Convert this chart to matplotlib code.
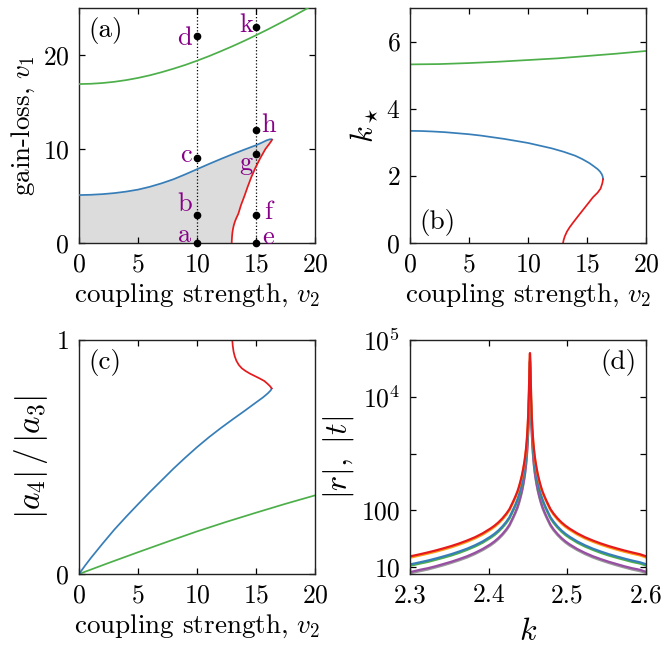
import numpy as np
import matplotlib
matplotlib.use('Agg')
import matplotlib.pyplot as plt

plt.rcParams['font.family'] = 'serif'
plt.rcParams['font.serif'] = ['cmr10']
plt.rcParams['mathtext.fontset'] = 'cm'
plt.rcParams['axes.formatter.use_mathtext'] = True
plt.rcParams['font.size'] = 19.5
plt.rcParams['xtick.labelsize'] = 18.5
plt.rcParams['ytick.labelsize'] = 18.5

GREEN = '#4daf4a'
BLUE = '#377eb8'
RED = '#e41a1c'
PURPLE = '#984ea3'
ORANGE = '#ff9f1a'
GREY = '#999999'
LABEL = '#880088'

# ---------------------------
# Panel (a): gain-loss vs coupling
# ---------------------------
green_a_v2 = [0, 1, 2, 3, 4, 5, 6, 7, 8, 9, 10, 11, 12, 13, 14, 15, 16, 17, 18, 19, 20]
green_a_v1 = [16.91, 16.94, 17.02, 17.15, 17.33, 17.56, 17.84, 18.17, 18.54, 18.94, 19.39,
              19.87, 20.39, 20.93, 21.50, 22.10, 22.72, 23.37, 24.03, 24.72, 25.42]
blue_a_v2 = [0, 1, 2, 3, 4, 5, 6, 7, 8, 9, 10, 11, 12, 13, 14, 15, 15.5, 15.9, 16.2, 16.35]
blue_a_v1 = [5.1, 5.13, 5.2, 5.31, 5.47, 5.68, 5.98, 6.35, 6.78, 7.3, 7.85, 8.4, 8.93, 9.44,
             9.93, 10.4, 10.68, 10.92, 11.04, 11.0]
red_a_v2 = [12.94, 12.95, 12.97, 13.0, 13.05, 13.12, 13.22, 13.35, 13.5, 13.72, 14.02, 14.3,
            14.6, 14.95, 15.35, 15.8, 16.1, 16.3, 16.35]
red_a_v1 = [0, 0.3, 0.7, 1.1, 1.5, 1.9, 2.3, 2.7, 3.1, 4, 5, 6, 7, 8, 9, 10, 10.5, 10.85, 11.0]

point_v2 = [10, 10, 10, 10, 15, 15, 15, 15, 15]
point_v1 = [0, 3, 9, 22, 0, 3, 9.5, 12, 23]
point_names = ['a', 'b', 'c', 'd', 'e', 'f', 'g', 'h', 'k']

# ---------------------------
# Panel (b): k_star vs coupling
# ---------------------------
green_b_v2 = [0, 2.5, 5, 7.5, 10, 12.5, 15, 17.5, 20]
green_b_k = [5.32, 5.33, 5.36, 5.40, 5.45, 5.50, 5.57, 5.64, 5.72]
blue_b_v2 = [0, 1, 2, 3, 4, 5, 6, 7, 8, 9, 10, 11, 12, 13, 14, 14.6, 15.2, 15.6, 15.9,
             16.1, 16.25, 16.33, 16.36]
blue_b_k = [3.34, 3.335, 3.32, 3.30, 3.27, 3.24, 3.20, 3.15, 3.10, 3.04, 2.98, 2.90, 2.82,
            2.72, 2.60, 2.50, 2.38, 2.28, 2.20, 2.13, 2.05, 1.98, 1.90]
red_b_v2 = [16.36, 16.3, 16.15, 15.9, 15.5, 15.1, 14.66, 14.2, 13.85, 13.53, 13.3, 13.12,
            13.02, 12.97]
red_b_k = [1.90, 1.78, 1.62, 1.50, 1.36, 1.18, 0.985, 0.78, 0.62, 0.47, 0.34, 0.2, 0.09, 0.0]

# ---------------------------
# Panel (c): |a4|/|a3| vs coupling
# ---------------------------
green_c_v2 = [0, 2.5, 5, 7.5, 10, 12.5, 15, 17.5, 20]
green_c_r = [0, 0.047, 0.093, 0.138, 0.182, 0.223, 0.262, 0.30, 0.336]
blue_c_v2 = [0, 0.5, 1, 2, 3, 4, 5, 6, 7, 8, 9, 10, 11, 12, 13, 14, 15, 15.6, 16.0, 16.25,
             16.33]
blue_c_r = [0, 0.035, 0.068, 0.13, 0.19, 0.245, 0.298, 0.35, 0.40, 0.45, 0.497, 0.542, 0.584,
            0.623, 0.66, 0.696, 0.733, 0.755, 0.772, 0.785, 0.793]
red_c_v2 = [16.33, 16.2, 16.0, 15.7, 15.3, 14.9, 14.5, 14.1, 13.8, 13.55, 13.35, 13.2, 13.1,
            13.03, 12.99]
red_c_r = [0.793, 0.802, 0.812, 0.825, 0.836, 0.846, 0.856, 0.868, 0.879, 0.893, 0.91, 0.93,
           0.95, 0.975, 1.0]

# ---------------------------
# Panel (d): |r|, |t| vs k (left flank, peak, right flank)
# ---------------------------
k_d = [2.30, 2.3125, 2.3225, 2.3325, 2.3425, 2.3525, 2.3625, 2.3725, 2.3825, 2.3925,
       2.4025, 2.4075, 2.4125, 2.4175, 2.4225, 2.4265, 2.4305, 2.4335, 2.4365, 2.4385,
       2.4405, 2.4425, 2.444, 2.4455, 2.4465, 2.4475, 2.4485, 2.4495, 2.4503, 2.451,
       2.4515, 2.452,
       2.4525,
       2.453, 2.4535, 2.454, 2.4547, 2.4555, 2.4565, 2.4575, 2.4585, 2.4595, 2.461,
       2.4625, 2.4645, 2.4665, 2.4685, 2.4715, 2.4745, 2.4785, 2.4825, 2.4875, 2.4925,
       2.4975, 2.5025, 2.5125, 2.5225, 2.5325, 2.5425, 2.5525, 2.5625, 2.5725, 2.5825,
       2.5925, 2.60]
red_d = [15.5, 16.9, 18.2, 19.7, 21.5, 23.6, 26.2, 29.5, 33.7, 39.6,
         48.2, 54, 61.8, 72.6, 88, 106, 138, 170, 215, 262,
         330, 430, 550, 730, 920, 1220, 1750, 2850, 4900, 9700,
         19500, 40000,
         59000,
         40000, 19500, 9700, 4900, 2850, 1750, 1220, 920, 730, 550,
         430, 330, 262, 215, 170, 138, 106, 88, 72.6, 61.8,
         54, 48.2, 39.6, 33.7, 29.5, 26.2, 23.6, 21.5, 19.7, 18.2,
         16.9, 15.6]
orange_d = [14.7, 16.1, 17.3, 18.7, 20.4, 22.4, 24.9, 28.0, 32.0, 37.6,
            45.8, 51.3, 58.7, 69.0, 83.6, 101, 131, 162, 204, 249,
            314, 409, 523, 694, 874, 1160, 1660, 2710, 4660, 9220,
            18500, 38000,
            56000,
            38000, 18500, 9220, 4660, 2710, 1660, 1160, 874, 694, 523,
            409, 314, 249, 204, 162, 131, 101, 83.6, 69.0, 58.7,
            51.3, 45.8, 37.6, 32.0, 28.0, 24.9, 22.4, 20.4, 18.7, 17.3,
            16.1, 14.8]
blue_d = [11.2, 12.2, 13.1, 14.2, 15.5, 17.0, 18.9, 21.2, 24.3, 28.5,
          34.7, 38.9, 44.5, 52.3, 63.4, 76.3, 99.4, 122, 155, 189,
          238, 310, 396, 526, 662, 878, 1260, 2050, 3530, 6980,
          14000, 28800,
          42500,
          28800, 14000, 6980, 3530, 2050, 1260, 878, 662, 526, 396,
          310, 238, 189, 155, 122, 99.4, 76.3, 63.4, 52.3, 44.5,
          38.9, 34.7, 28.5, 24.3, 21.2, 18.9, 17.0, 15.5, 14.2, 13.1,
          12.2, 11.3]
green_d = [10.6, 11.6, 12.4, 13.5, 14.7, 16.1, 17.9, 20.2, 23.1, 27.1,
           33.0, 36.9, 42.3, 49.7, 60.2, 72.5, 94.4, 116, 147, 179,
           226, 294, 376, 500, 629, 834, 1200, 1950, 3350, 6630,
           13300, 27400,
           40400,
           27400, 13300, 6630, 3350, 1950, 1200, 834, 629, 500, 376,
           294, 226, 179, 147, 116, 94.4, 72.5, 60.2, 49.7, 42.3,
           36.9, 33.0, 27.1, 23.1, 20.2, 17.9, 16.1, 14.7, 13.5, 12.4,
           11.6, 10.7]
purple_d = [8.2, 9.0, 9.6, 10.4, 11.4, 12.5, 13.9, 15.6, 17.9, 21.0,
            25.5, 28.6, 32.8, 38.5, 46.6, 56.2, 73.1, 90.1, 114, 139,
            175, 228, 292, 387, 488, 647, 928, 1510, 2600, 5140,
            10300, 21200,
            31300,
            21200, 10300, 5140, 2600, 1510, 928, 647, 488, 387, 292,
            228, 175, 139, 114, 90.1, 73.1, 56.2, 46.6, 38.5, 32.8,
            28.6, 25.5, 21.0, 17.9, 15.6, 13.9, 12.5, 11.4, 10.4, 9.6,
            9.0, 8.3]
grey_d = [7.8, 8.5, 9.1, 9.9, 10.8, 11.9, 13.2, 14.8, 17.0, 20.0,
          24.2, 27.2, 31.2, 36.6, 44.3, 53.4, 69.4, 85.6, 108, 132,
          166, 217, 277, 368, 464, 615, 882, 1430, 2470, 4880,
          9780, 20100,
          29700,
          20100, 9780, 4880, 2470, 1430, 882, 615, 464, 368, 277,
          217, 166, 132, 108, 85.6, 69.4, 53.4, 44.3, 36.6, 31.2,
          27.2, 24.2, 20.0, 17.0, 14.8, 13.2, 11.9, 10.8, 9.9, 9.1,
          8.5, 7.9]

xlabel_v2 = r'coupling strength, $v_2$'

fig = plt.figure(figsize=(6.62, 6.5), dpi=100)
W = 236 / 662
ax_a = fig.add_axes([79 / 662, 1 - 243 / 650, W, 235 / 650])
ax_b = fig.add_axes([410 / 662, 1 - 243 / 650, W, 235 / 650])
ax_c = fig.add_axes([79 / 662, 1 - 574 / 650, W, 234 / 650])
ax_d = fig.add_axes([410 / 662, 1 - 574 / 650, W, 234 / 650])

for ax in (ax_a, ax_b, ax_c, ax_d):
    ax.tick_params(direction='in', top=True, right=True, length=4.5, width=0.9, pad=7)
    for sp in ax.spines.values():
        sp.set_linewidth(1.0)
        sp.set_color('#222222')

lw = 1.25

# (a)
poly_x = [0] + red_a_v2 + blue_a_v2[::-1]
poly_y = [0] + red_a_v1 + blue_a_v1[::-1]
ax_a.fill(poly_x, poly_y, color='#dcdcdc', lw=0, zorder=1)
for xv in (10, 15):
    ax_a.axvline(xv, color='black', ls=':', lw=0.9, zorder=2)
ax_a.plot(green_a_v2, green_a_v1, color=GREEN, lw=lw, zorder=3)
ax_a.plot(blue_a_v2, blue_a_v1, color=BLUE, lw=lw, zorder=3)
ax_a.plot(red_a_v2, red_a_v1, color=RED, lw=lw, zorder=3)
ax_a.plot(point_v2, point_v1, 'o', color='black', ms=4.5, clip_on=False, zorder=5)
offsets = {'a': (-12, 8), 'b': (-12, 11), 'c': (-11, 3), 'd': (-12, -2),
           'e': (12, 6), 'f': (12, 3), 'g': (-10, -9), 'h': (12, 5), 'k': (-10, 2)}
for x, y, name in zip(point_v2, point_v1, point_names):
    dx, dy = offsets[name]
    ax_a.annotate(name, (x, y), xytext=(dx * 0.72, dy * 0.72), textcoords='offset points',
                  ha='center', va='center', color=LABEL, fontsize=19, zorder=6)
ax_a.set_xlim(0, 20)
ax_a.set_ylim(0, 25)
ax_a.set_xticks([0, 5, 10, 15, 20])
ax_a.set_yticks([0, 10, 20])
ax_a.set_xlabel(xlabel_v2)
ax_a.set_ylabel(r'gain-loss, $v_1$')
ax_a.text(0.04, 0.96, '(a)', transform=ax_a.transAxes, ha='left', va='top')

# (b)
ax_b.plot(green_b_v2, green_b_k, color=GREEN, lw=lw)
ax_b.plot(blue_b_v2, blue_b_k, color=BLUE, lw=lw)
ax_b.plot(red_b_v2, red_b_k, color=RED, lw=lw)
ax_b.set_xlim(0, 20)
ax_b.set_ylim(0, 7)
ax_b.set_xticks([0, 5, 10, 15, 20])
ax_b.set_yticks([0, 2, 4, 6])
ax_b.set_xlabel(xlabel_v2)
ax_b.set_ylabel(r'$k_\star$', fontsize=22)
ax_b.text(0.04, 0.03, '(b)', transform=ax_b.transAxes, ha='left', va='bottom')

# (c)
ax_c.plot(green_c_v2, green_c_r, color=GREEN, lw=lw)
ax_c.plot(blue_c_v2, blue_c_r, color=BLUE, lw=lw)
ax_c.plot(red_c_v2, red_c_r, color=RED, lw=lw)
ax_c.set_xlim(0, 20)
ax_c.set_ylim(0, 1)
ax_c.set_xticks([0, 5, 10, 15, 20])
ax_c.set_yticks([0, 1])
ax_c.set_xlabel(xlabel_v2)
ax_c.set_ylabel(r'$|a_4|\,/\,|a_3|$', fontsize=24)
ax_c.text(0.04, 0.96, '(c)', transform=ax_c.transAxes, ha='left', va='top')

# (d)
lw_d = 1.6
ax_d.plot(k_d, grey_d, color=GREY, lw=lw_d)
ax_d.plot(k_d, purple_d, color=PURPLE, lw=lw_d)
ax_d.plot(k_d, green_d, color=GREEN, lw=lw_d)
ax_d.plot(k_d, blue_d, color=BLUE, lw=lw_d)
ax_d.plot(k_d, orange_d, color=ORANGE, lw=lw_d)
ax_d.plot(k_d, red_d, color=RED, lw=lw_d)
ax_d.set_yscale('log')
ax_d.set_xlim(2.3, 2.6)
ax_d.set_ylim(7.6, 1e5)
ax_d.set_xticks([2.3, 2.4, 2.5, 2.6])
ax_d.set_xticklabels(['2.3', '2.4', '2.5', '2.6'])
ax_d.set_yticks([10, 100, 1000, 1e4, 1e5])
ax_d.set_yticklabels(['10', '100', '', r'$10^4$', r'$10^5$'])
ax_d.minorticks_off()
ax_d.set_xlabel(r'$k$', fontsize=23, labelpad=8)
ax_d.set_ylabel(r'$|r|,\ |t|$', fontsize=23)
ax_d.text(0.96, 0.96, '(d)', transform=ax_d.transAxes, ha='right', va='top')

fig.savefig('out.png', dpi=100)
